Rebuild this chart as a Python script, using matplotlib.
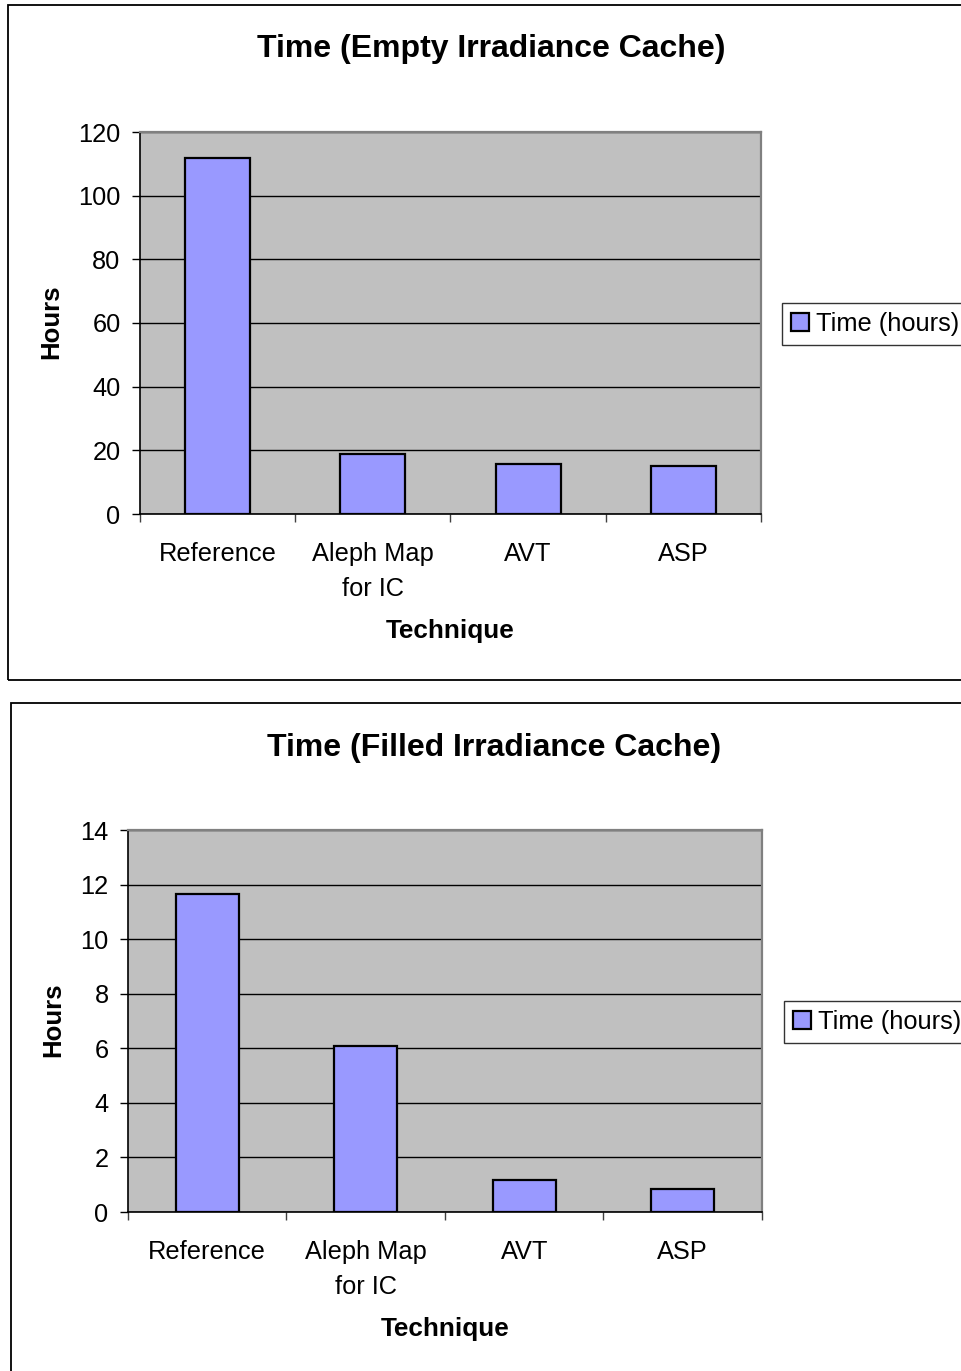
import numpy as np
import matplotlib.pyplot as plt
from matplotlib.patches import Rectangle

plt.rcParams['font.family'] = ['Liberation Sans', 'DejaVu Sans']

techniques = ['Reference', 'Aleph Map\nfor IC', 'AVT', 'ASP']
hours_empty = [111.8, 18.7, 15.6, 15.0]
hours_filled = [11.65, 6.08, 1.16, 0.86]
series_name = 'Time (hours)'

W, H = 962, 1371
fig = plt.figure(figsize=(W / 100, H / 100), dpi=100)


def box(x0, y0, x1, y1):
    # pixel box (top-left origin) -> figure fraction rect
    return [x0 / W, 1 - y1 / H, (x1 - x0) / W, (y1 - y0) / H]


def fx(x):
    return x / W


def fy(y):
    return 1 - y / H


def panel(frame, plot, values, ymax, ystep, title, title_xy, ylab_xy, xlab_xy, leg_xy, bar_w):
    fig.add_artist(Rectangle((fx(frame[0]), fy(frame[3])),
                             fx(frame[2] - frame[0]), (frame[3] - frame[1]) / H,
                             transform=fig.transFigure, fill=False,
                             edgecolor='black', lw=1.3))
    ax = fig.add_axes(box(*plot))
    ax.set_facecolor('#C0C0C0')
    x = np.arange(len(values))
    bars = ax.bar(x, values, width=bar_w, color='#9999FF', edgecolor='black',
                  linewidth=1.6, zorder=3, label=series_name)
    ax.set_xlim(-0.5, len(values) - 0.5)
    ax.set_ylim(0, ymax)
    ax.set_yticks(np.arange(0, ymax + ystep / 2, ystep))
    ax.yaxis.grid(True, color='black', lw=1.0, zorder=1)
    ax.set_axisbelow(True)
    ax.tick_params(axis='y', direction='out', length=6, width=1, pad=8, labelsize=18.3)

    # category boundaries carry the tick marks, labels sit at the centres
    ax.set_xticks(np.arange(-0.5, len(values)), labels=[''] * (len(values) + 1))
    ax.set_xticks(x, labels=techniques, minor=True)
    ax.tick_params(axis='x', which='major', direction='out', length=6, width=1, color='#404040')
    ax.tick_params(axis='x', which='minor', length=0, pad=20, labelsize=18.3)
    for lab in ax.get_xticklabels(minor=True):
        lab.set_linespacing(1.6)
        lab.set_verticalalignment('top')

    for side in ('top', 'right'):
        ax.spines[side].set_color('#808080')
        ax.spines[side].set_linewidth(1.6)
    for side in ('left', 'bottom'):
        ax.spines[side].set_color('black')
        ax.spines[side].set_linewidth(1.2)

    fig.text(fx(title_xy[0]), fy(title_xy[1]), title, ha='center', va='center',
             fontsize=23, fontweight='bold')
    fig.text(fx(ylab_xy[0]), fy(ylab_xy[1]), 'Hours', ha='center', va='center',
             rotation=90, fontsize=18.5, fontweight='bold')
    fig.text(fx(xlab_xy[0]), fy(xlab_xy[1]), 'Technique', ha='center', va='center',
             fontsize=18.8, fontweight='bold')

    fig.legend(handles=[bars], labels=[series_name], loc='center left',
               bbox_to_anchor=(fx(leg_xy[0]), fy(leg_xy[1])), frameon=True,
               fancybox=False, edgecolor='black', fontsize=18.3,
               handlelength=0.7, handleheight=0.7, handletextpad=0.3,
               borderpad=0.35, borderaxespad=0)
    return ax


panel((8, 5, 990, 680), (140, 132, 761, 514), hours_empty, 120, 20,
      'Time (Empty Irradiance Cache)', (491, 49), (51, 322), (450, 631), (782, 324), 0.42)
panel((11, 703, 990, 1400), (128, 830, 762, 1212), hours_filled, 14, 2,
      'Time (Filled Irradiance Cache)', (494, 748), (53, 1020), (445, 1329), (784, 1022), 0.40)

fig.savefig('out.png', dpi=100)
